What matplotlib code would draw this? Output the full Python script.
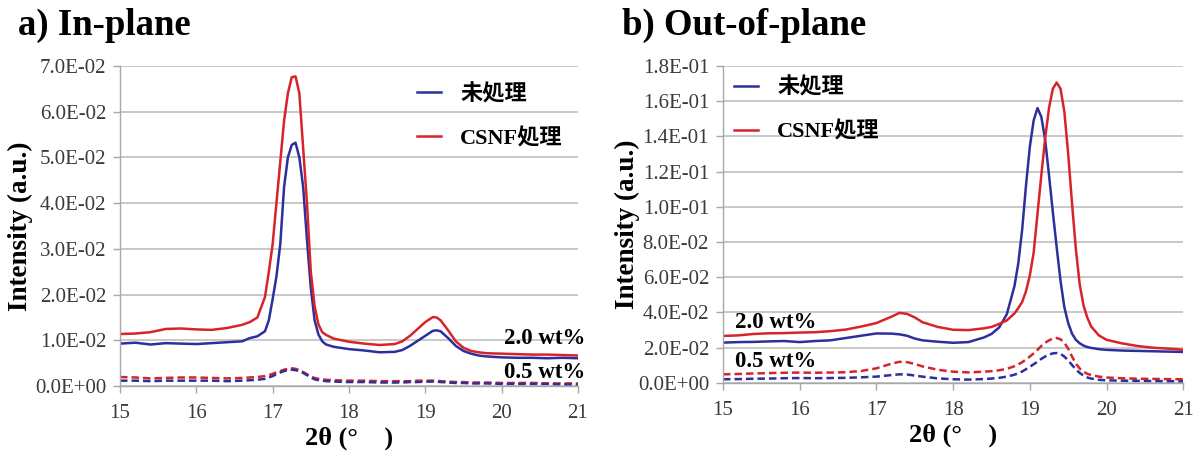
import matplotlib
matplotlib.use("Agg")
import matplotlib.pyplot as plt
from matplotlib.ticker import FuncFormatter, MultipleLocator
from matplotlib.font_manager import FontProperties

# 2θ sampling for the in-plane scans
x_in = [15.0, 15.2, 15.4, 15.6, 15.8, 16.0, 16.2, 16.4, 16.6, 16.7, 16.8, 16.9, 16.95,
        17.0, 17.05, 17.1, 17.15, 17.2, 17.25, 17.3, 17.35, 17.4, 17.45, 17.5, 17.55,
        17.6, 17.65, 17.7, 17.8, 18.0, 18.2, 18.4, 18.6, 18.7, 18.8, 18.9, 19.0, 19.1,
        19.15, 19.2, 19.3, 19.4, 19.5, 19.6, 19.7, 19.8, 20.0, 20.2, 20.4, 20.6, 20.8, 21.0]

# in-plane, 2.0 wt%
in_untreated_20 = [0.0093, 0.0095, 0.0091, 0.0094, 0.0093, 0.0092, 0.0094, 0.0096, 0.0098,
                   0.0105, 0.0109, 0.0120, 0.0144, 0.0190, 0.0240, 0.0310, 0.0435, 0.0500,
                   0.0527, 0.0532, 0.0500, 0.0435, 0.0320, 0.0215, 0.0144, 0.0113, 0.0098,
                   0.0091, 0.0086, 0.0081, 0.0078, 0.0074, 0.0075, 0.0079, 0.0088, 0.0099,
                   0.0110, 0.0121, 0.0122, 0.0120, 0.0105, 0.0088, 0.0077, 0.0071, 0.0067,
                   0.0065, 0.0063, 0.0062, 0.0062, 0.0061, 0.0062, 0.0061]
in_csnf_20 = [0.0114, 0.0115, 0.0118, 0.0125, 0.0126, 0.0124, 0.0123, 0.0127, 0.0134,
              0.0140, 0.0150, 0.0195, 0.0250, 0.0310, 0.0400, 0.0490, 0.0580, 0.0640,
              0.0675, 0.0677, 0.0640, 0.0520, 0.0400, 0.0250, 0.0175, 0.0135, 0.0118,
              0.0112, 0.0104, 0.0097, 0.0093, 0.0090, 0.0092, 0.0098, 0.0110, 0.0125,
              0.0140, 0.0151, 0.0150, 0.0144, 0.0122, 0.0098, 0.0084, 0.0077, 0.0074,
              0.0072, 0.0071, 0.0070, 0.0069, 0.0069, 0.0068, 0.0067]
# in-plane, 0.5 wt%
in_untreated_05 = [0.0012, 0.0012, 0.0011, 0.0012, 0.0012, 0.0012, 0.0012, 0.0011, 0.0012,
                   0.0013, 0.0014, 0.0016, 0.0019, 0.0022, 0.0026, 0.0030, 0.0033, 0.0035,
                   0.0036, 0.0035, 0.0033, 0.0029, 0.0024, 0.0019, 0.0015, 0.0013, 0.0012,
                   0.0011, 0.0010, 0.0009, 0.0009, 0.0008, 0.0008, 0.0008, 0.0009, 0.0009,
                   0.0010, 0.0010, 0.0010, 0.0009, 0.0008, 0.0007, 0.0007, 0.0006, 0.0006,
                   0.0006, 0.0005, 0.0005, 0.0005, 0.0005, 0.0004, 0.0004]
in_csnf_05 = [0.0020, 0.0019, 0.0017, 0.0018, 0.0019, 0.0019, 0.0018, 0.0017, 0.0018,
              0.0019, 0.0020, 0.0022, 0.0024, 0.0027, 0.0030, 0.0033, 0.0036, 0.0038,
              0.0039, 0.0038, 0.0035, 0.0031, 0.0026, 0.0021, 0.0018, 0.0016, 0.0015,
              0.0014, 0.0013, 0.0012, 0.0012, 0.0011, 0.0011, 0.0011, 0.0011, 0.0012,
              0.0012, 0.0012, 0.0012, 0.0011, 0.0010, 0.0009, 0.0009, 0.0008, 0.0008,
              0.0008, 0.0007, 0.0007, 0.0007, 0.0006, 0.0006, 0.0006]

# 2θ sampling for the out-of-plane scans
x_out = [15.0, 15.2, 15.4, 15.6, 15.8, 16.0, 16.2, 16.4, 16.6, 16.8, 17.0, 17.2, 17.3,
         17.4, 17.5, 17.6, 17.8, 18.0, 18.2, 18.4, 18.5, 18.6, 18.7, 18.8, 18.85, 18.9,
         18.95, 19.0, 19.05, 19.1, 19.15, 19.2, 19.25, 19.3, 19.35, 19.4, 19.45, 19.5,
         19.55, 19.6, 19.65, 19.7, 19.75, 19.8, 19.9, 20.0, 20.2, 20.4, 20.6, 20.8, 21.0]

# out-of-plane, 2.0 wt%
out_untreated_20 = [0.0229, 0.0232, 0.0233, 0.0236, 0.0238, 0.0232, 0.0238, 0.0242, 0.0255,
                    0.0268, 0.0281, 0.0280, 0.0276, 0.0268, 0.0252, 0.0242, 0.0234, 0.0228,
                    0.0232, 0.0258, 0.0278, 0.0315, 0.0390, 0.0550, 0.0680, 0.0870, 0.1120,
                    0.1340, 0.1490, 0.1560, 0.1510, 0.1380, 0.1180, 0.0970, 0.0770, 0.0580,
                    0.0430, 0.0340, 0.0280, 0.0245, 0.0225, 0.0212, 0.0204, 0.0199, 0.0192,
                    0.0188, 0.0184, 0.0182, 0.0180, 0.0178, 0.0176]
out_csnf_20 = [0.0267, 0.0270, 0.0278, 0.0282, 0.0283, 0.0286, 0.0288, 0.0294, 0.0303,
               0.0320, 0.0340, 0.0377, 0.0398, 0.0392, 0.0372, 0.0345, 0.0318, 0.0302,
               0.0300, 0.0310, 0.0318, 0.0335, 0.0355, 0.0395, 0.0425, 0.0460, 0.0520,
               0.0610, 0.0740, 0.0960, 0.1180, 0.1390, 0.1560, 0.1670, 0.1705, 0.1670,
               0.1540, 0.1300, 0.1020, 0.0760, 0.0560, 0.0440, 0.0370, 0.0320, 0.0270,
               0.0245, 0.0225, 0.0210, 0.0200, 0.0195, 0.0188]
# out-of-plane, 0.5 wt%
out_untreated_05 = [0.0021, 0.0022, 0.0024, 0.0025, 0.0027, 0.0028, 0.0027, 0.0028, 0.0029,
                    0.0032, 0.0036, 0.0045, 0.0049, 0.0048, 0.0042, 0.0036, 0.0026, 0.0021,
                    0.0019, 0.0022, 0.0025, 0.0029, 0.0036, 0.0047, 0.0055, 0.0065, 0.0078,
                    0.0092, 0.0106, 0.0121, 0.0137, 0.0150, 0.0161, 0.0168, 0.0170, 0.0165,
                    0.0150, 0.0128, 0.0102, 0.0077, 0.0057, 0.0042, 0.0031, 0.0025, 0.0018,
                    0.0015, 0.0013, 0.0012, 0.0011, 0.0010, 0.0009]
out_csnf_05 = [0.0049, 0.0051, 0.0054, 0.0056, 0.0058, 0.0059, 0.0058, 0.0059, 0.0061,
               0.0068, 0.0083, 0.0110, 0.0120, 0.0118, 0.0108, 0.0094, 0.0075, 0.0064,
               0.0060, 0.0064, 0.0067, 0.0072, 0.0080, 0.0095, 0.0105, 0.0118, 0.0133,
               0.0150, 0.0168, 0.0188, 0.0210, 0.0228, 0.0242, 0.0252, 0.0255, 0.0248,
               0.0228, 0.0195, 0.0150, 0.0110, 0.0082, 0.0064, 0.0052, 0.0045, 0.0036,
               0.0031, 0.0027, 0.0024, 0.0023, 0.0022, 0.0021]

legend_labels = ["未処理", "CSNF処理"]
conc_labels = ["2.0 wt%", "0.5 wt%"]

BLUE = "#2c2f9c"
RED = "#d8232a"
GRID = "#c4c4c4"
AXC = "#a8a8a8"
SERIF = "Liberation Serif"
MIXED = [SERIF, "Noto Sans CJK JP"]

fig = plt.figure(figsize=(11.94, 4.57), dpi=100)
ax1 = fig.add_axes([0.1005, 0.155, 0.3835, 0.701])
ax2 = fig.add_axes([0.6055, 0.162, 0.3855, 0.694])


def style_axes(ax, ymax, ystep):
    ax.set_xlim(15, 21)
    ax.set_ylim(0, ymax)
    ax.xaxis.set_major_locator(MultipleLocator(1))
    ax.yaxis.set_major_locator(MultipleLocator(ystep))
    ax.yaxis.set_major_formatter(FuncFormatter(lambda v, p: f"{v:.1E}"))
    for s in ["top", "right"]:
        ax.spines[s].set_visible(False)
    for s in ["left", "bottom"]:
        ax.spines[s].set_color(AXC)
        ax.spines[s].set_linewidth(1.0)
    ax.grid(axis="y", color=GRID, linewidth=1.3)
    ax.set_axisbelow(True)
    ax.tick_params(axis="both", direction="out", length=5, width=1.0, color=AXC,
                   labelsize=15, labelcolor="#3a3a3a", pad=5)
    ax.tick_params(axis="x", pad=8)
    for lab in ax.get_xticklabels() + ax.get_yticklabels():
        lab.set_fontfamily(SERIF)
    ax.set_xlabel("2θ (°    )", fontsize=19, fontweight="bold", family=SERIF)
    ax.set_ylabel("Intensity (a.u.)", fontsize=19.5, fontweight="bold", family=SERIF)
    ax.xaxis.set_label_coords(0.5, -0.127)


def draw(ax, x, u20, c20, u05, c05):
    hu, = ax.plot(x, u20, color=BLUE, lw=1.8, solid_joinstyle="round")
    hc, = ax.plot(x, c20, color=RED, lw=1.8, solid_joinstyle="round")
    ax.plot(x, c05, color=RED, lw=1.8, ls=(0, (3, 1.6)))
    ax.plot(x, u05, color=BLUE, lw=1.8, ls=(0, (3, 1.6)))
    return hu, hc


legend_font = FontProperties(family=MIXED, weight="bold", size=16)

# a) in-plane
hu, hc = draw(ax1, x_in, in_untreated_20, in_csnf_20, in_untreated_05, in_csnf_05)
style_axes(ax1, 0.07, 0.01)
ax1.yaxis.set_label_coords(-0.19, 0.5)
ax1.legend([hu, hc], legend_labels, prop=legend_font, frameon=False, loc="upper left",
           bbox_to_anchor=(0.648, 0.944), borderpad=0, borderaxespad=0,
           handlelength=1.1, handletextpad=0.85, labelspacing=1.02)
ax1.text(21.1, 0.0105, conc_labels[0], ha="right", va="center", fontsize=16.5,
         fontweight="bold", family=SERIF, clip_on=False)
ax1.text(21.1, 0.0030, conc_labels[1], ha="right", va="center", fontsize=16.5,
         fontweight="bold", family=SERIF, clip_on=False)

# b) out-of-plane
hu, hc = draw(ax2, x_out, out_untreated_20, out_csnf_20, out_untreated_05, out_csnf_05)
style_axes(ax2, 0.18, 0.02)
ax2.yaxis.set_label_coords(-0.18, 0.5)
ax2.legend([hu, hc], legend_labels, prop=legend_font, frameon=False, loc="upper left",
           bbox_to_anchor=(0.024, 0.963), borderpad=0, borderaxespad=0,
           handlelength=1.1, handletextpad=0.85, labelspacing=1.02)
ax2.text(15.16, 0.0346, conc_labels[0], ha="left", va="center", fontsize=16.5,
         fontweight="bold", family=SERIF)
ax2.text(15.16, 0.0119, conc_labels[1], ha="left", va="center", fontsize=16.5,
         fontweight="bold", family=SERIF)

fig.text(0.015, 0.945, "a) In-plane", fontsize=26.5, fontweight="bold", family=SERIF,
         va="center")
fig.text(0.521, 0.945, "b) Out-of-plane", fontsize=26.5, fontweight="bold", family=SERIF,
         va="center")

fig.savefig("out.png", dpi=100, facecolor="white")
